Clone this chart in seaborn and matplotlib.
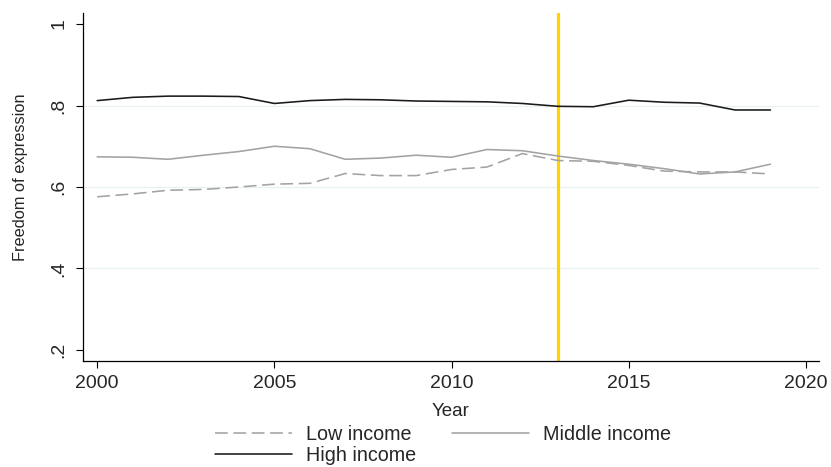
import matplotlib
matplotlib.use("Agg")
import matplotlib.pyplot as plt
import seaborn as sns
import pandas as pd

# Freedom of expression index by income group, 2000-2019
years = list(range(2000, 2020))
low_income = [0.576, 0.583, 0.592, 0.594, 0.600, 0.607, 0.609, 0.633, 0.628, 0.628,
              0.643, 0.649, 0.682, 0.665, 0.663, 0.653, 0.639, 0.637, 0.637, 0.632]
middle_income = [0.674, 0.673, 0.668, 0.678, 0.687, 0.700, 0.694, 0.668, 0.671, 0.678,
                 0.673, 0.692, 0.689, 0.676, 0.665, 0.656, 0.645, 0.632, 0.637, 0.656]
high_income = [0.812, 0.820, 0.823, 0.823, 0.822, 0.805, 0.812, 0.815, 0.814, 0.811,
               0.810, 0.809, 0.805, 0.798, 0.797, 0.813, 0.808, 0.806, 0.789, 0.789]
series_names = ["Low income", "Middle income", "High income"]
event_year = 2013

x_ticks = [2000, 2005, 2010, 2015, 2020]
y_ticks = [0.2, 0.4, 0.6, 0.8, 1.0]
y_tick_labels = [".2", ".4", ".6", ".8", "1"]

df = pd.DataFrame({
    "Year": years * 3,
    "value": low_income + middle_income + high_income,
    "group": [series_names[0]] * len(years) + [series_names[1]] * len(years)
             + [series_names[2]] * len(years),
})

sns.set_theme(style="white")
plt.rcParams["font.family"] = ["Liberation Sans", "DejaVu Sans"]

fig = plt.figure(figsize=(8.31, 4.67), dpi=100)
ax = fig.add_axes([83 / 831, 1 - 361 / 467, (819 - 83) / 831, (361 - 13) / 467])

styles = {
    "Low income": dict(color="#a3a3a3", ls=(0, (8, 3.5)), lw=1.15),
    "Middle income": dict(color="#a3a3a3", ls="-", lw=1.15),
    "High income": dict(color="#1a1a1a", ls="-", lw=1.15),
}
handles = {}
for name in series_names:
    st = styles[name]
    sub = df[df["group"] == name]
    sns.lineplot(data=sub, x="Year", y="value", ax=ax, color=st["color"],
                 linestyle=st["ls"], linewidth=st["lw"], label=name,
                 legend=False, zorder=3)
    handles[name] = ax.lines[-1]

ax.axvline(event_year, color="#ffd200", lw=2.3, zorder=2)

ax.set_xlim(1999.6, 2020.37)
ax.set_ylim(0.173, 1.027)
ax.set_xticks(x_ticks)
ax.set_xticklabels([str(t) for t in x_ticks], fontsize=14)
ax.set_yticks(y_ticks)
ax.set_yticklabels(y_tick_labels, fontsize=14, rotation=90, va="center")

ax.grid(False)
ax.yaxis.grid(True, color="#e9f0f1", lw=0.9, zorder=0)
for val, gl in zip(y_ticks, ax.get_ygridlines()):
    if val in (y_ticks[0], y_ticks[-1]):
        gl.set_visible(False)

for side in ("top", "right"):
    ax.spines[side].set_visible(False)
for side in ("left", "bottom"):
    ax.spines[side].set_color("black")
    ax.spines[side].set_linewidth(0.9)

ax.tick_params(axis="both", which="major", length=5, width=0.8, color="black",
               bottom=True, left=True)
ax.tick_params(axis="x", pad=5)
ax.tick_params(axis="y", pad=6)

ax.set_xlabel("Year", fontsize=13.5, labelpad=8)
ax.set_ylabel("Freedom of expression", fontsize=11.8)
ax.yaxis.set_label_coords(-0.075, 0.527)

order = ["Low income", "High income", "Middle income"]
fig.legend([handles[n] for n in order], order, ncol=2, loc="upper center",
           bbox_to_anchor=(443 / 831, 1 - 425 / 467), frameon=False,
           fontsize=14.2, handlelength=3.9, handletextpad=0.72,
           columnspacing=1.8, labelspacing=0.12, borderpad=0, borderaxespad=0)

fig.savefig("out.png", dpi=100)
